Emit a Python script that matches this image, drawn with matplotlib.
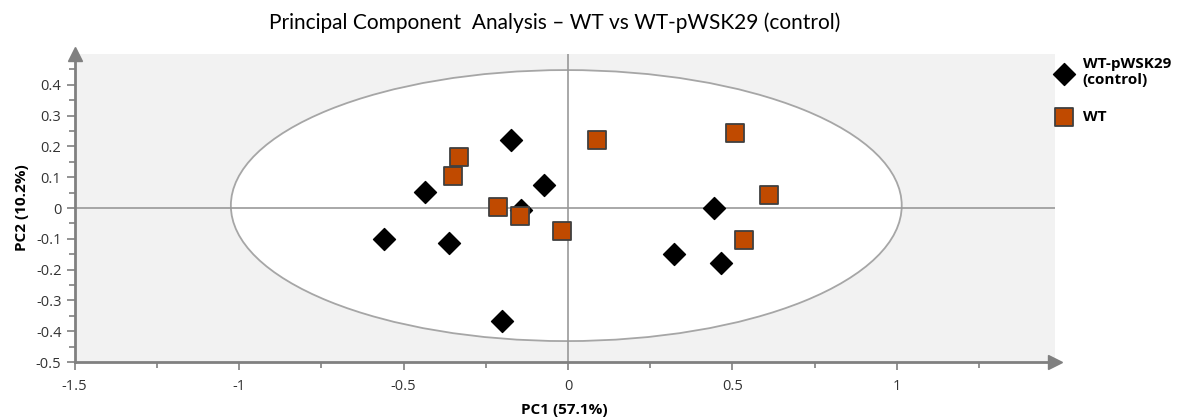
import numpy as np
import matplotlib.pyplot as plt
from matplotlib.patches import Ellipse

plt.rcParams['font.family'] = ['Open Sans', 'DejaVu Sans']

# WT-pWSK29 (control) scores
ctrl_pc1 = [-0.174, -0.434, -0.073, -0.144, -0.560, -0.361, -0.199, 0.321, 0.443, 0.465]
ctrl_pc2 = [0.221, 0.052, 0.075, -0.006, -0.100, -0.114, -0.367, -0.149, 0.000, -0.179]

# WT scores
wt_pc1 = [0.089, -0.330, -0.349, -0.214, -0.147, -0.018, 0.508, 0.612, 0.535]
wt_pc2 = [0.221, 0.166, 0.104, 0.003, -0.026, -0.075, 0.243, 0.042, -0.104]

# confidence ellipse
ell_center = (-0.005, 0.008)
ell_width = 2.04
ell_height = 0.88

xticks = [-1.5, -1, -0.5, 0, 0.5, 1]
xticklabels = ['-1.5', '-1', '-0.5', '0', '0.5', '1']
yticks = [-0.5, -0.4, -0.3, -0.2, -0.1, 0, 0.1, 0.2, 0.3, 0.4]
yticklabels = ['-0.5', '-0.4', '-0.3', '-0.2', '-0.1', '0', '0.1', '0.2', '0.3', '0.4']

axcol = '#808080'

fig = plt.figure(figsize=(11.85, 4.19), dpi=100)
ax = fig.add_axes([0.063, 0.136, 0.827, 0.735])
ax.set_facecolor('#f2f2f2')

ax.add_patch(Ellipse(ell_center, ell_width, ell_height, facecolor='white',
                     edgecolor='#a6a6a6', lw=1.3, zorder=1))
ax.axhline(0, color='#999999', lw=1.2, zorder=2)
ax.axvline(0, color='#999999', lw=1.2, zorder=2)

ax.scatter(ctrl_pc1, ctrl_pc2, marker='D', s=125, color='black', zorder=3,
           label='WT-pWSK29\n(control)')
ax.scatter(wt_pc1, wt_pc2, marker='s', s=150, color='#c04a00', edgecolor='#404040',
           linewidth=1.3, zorder=4, label='WT')

ax.set_xlim(-1.5, 1.48)
ax.set_ylim(-0.5, 0.5)
ax.set_xticks(xticks)
ax.set_xticklabels(xticklabels)
ax.set_yticks(yticks)
ax.set_yticklabels(yticklabels)
ax.set_xticks(np.arange(-1.25, 1.3, 0.5), minor=True)
ax.set_yticks(np.arange(-0.45, 0.46, 0.1), minor=True)

for s in ['top', 'right']:
    ax.spines[s].set_visible(False)
for s in ['left', 'bottom']:
    ax.spines[s].set_color(axcol)
    ax.spines[s].set_linewidth(2)
ax.tick_params(which='major', length=6, width=1.2, color=axcol, labelsize=10.5, labelcolor='#333333')
ax.tick_params(which='minor', length=4, width=1.2, color=axcol)
ax.tick_params(axis='x', pad=6)

# axis arrows
ax.plot(1, 0, '>', color=axcol, markersize=10, transform=ax.transAxes, clip_on=False)
ax.plot(0, 1, '^', color=axcol, markersize=10, transform=ax.transAxes, clip_on=False)

ax.set_xlabel('PC1 (57.1%)', fontsize=11, fontweight='bold', labelpad=7)
ax.set_ylabel('PC2 (10.2%)', fontsize=11, fontweight='bold', labelpad=5)

fig.text(0.468, 0.947, 'Principal Component  Analysis \u2013 WT vs WT-pWSK29 (control)',
         ha='center', va='center', fontsize=15, family=['Lato', 'DejaVu Sans'])

leg = ax.legend(loc='upper left', bbox_to_anchor=(0.985, 1.02), frameon=False,
                prop={'weight': 'bold', 'size': 11}, handletextpad=0.2,
                labelspacing=1.5, borderaxespad=0.2)

fig.savefig('out.png', dpi=100)
